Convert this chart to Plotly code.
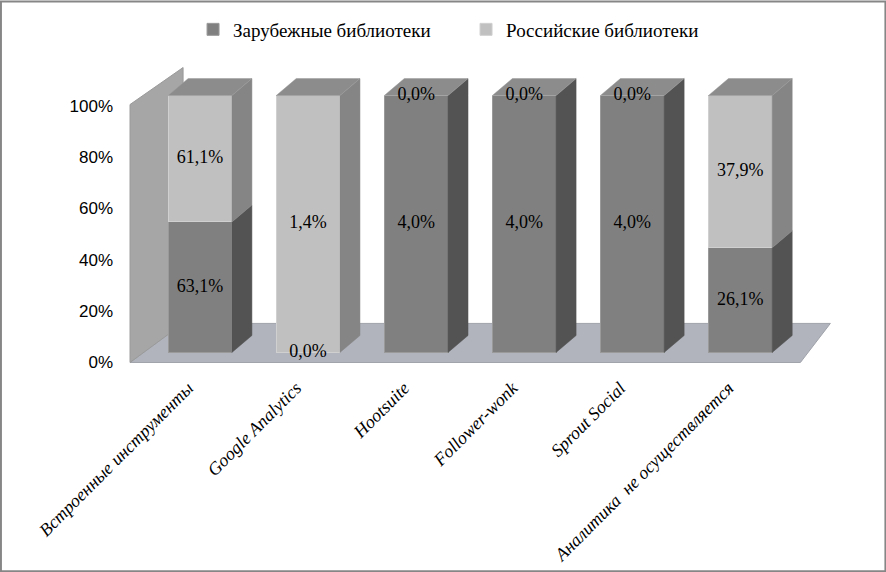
import plotly.graph_objects as go

categories = ["Встроенные инструменты", "Google Analytics", "Hootsuite",
              "Follower-wonk", "Sprout Social", "Аналитика  не осуществляется"]
foreign = [63.1, 0.0, 4.0, 4.0, 4.0, 26.1]
russian = [61.1, 1.4, 0.0, 0.0, 0.0, 37.9]
y_ticks = [0, 20, 40, 60, 80, 100]

SERIF = "Times New Roman, Liberation Serif, serif"

# 3d look parameters (data units)
W = 0.59        # bar width
DX = 0.185      # depth shift, x
DY = 6.6        # depth shift, y (%)
LBL_SHIFT = 3.9  # tick labels sit on the front edge of the floor

DARK, DARK_SIDE = "#808080", "#535353"
LIGHT, LIGHT_SIDE = "#c0c0c0", "#858585"
TOP = "#8c8c8c"

xs = list(range(len(categories)))
f_pct = [f / (f + r) * 100 for f, r in zip(foreign, russian)]
r_pct = [100 - p for p in f_pct]


def side_poly(x, lo, hi):
    xr = x + W / 2
    return [xr, xr + DX, xr + DX, xr, xr, None], [lo, lo + DY, hi + DY, hi, lo, None]


def top_poly(x, h):
    xl, xr = x - W / 2, x + W / 2
    return [xl, xl + DX, xr + DX, xr, xl, None], [h, h + DY, h + DY, h, h, None]


fig = go.Figure()

fig.add_trace(go.Bar(x=xs, y=f_pct, width=W, name="Зарубежные библиотеки",
                     marker=dict(color=DARK, line=dict(color="#9a9a9a", width=1)),
                     hoverinfo="skip"))
fig.add_trace(go.Bar(x=xs, y=r_pct, width=W, name="Российские библиотеки",
                     marker=dict(color=LIGHT, line=dict(color="#d0d0d0", width=1)),
                     hoverinfo="skip"))

for pct_lo, pct_hi, col in [(None, f_pct, DARK_SIDE), (f_pct, None, LIGHT_SIDE)]:
    px_, py_ = [], []
    for i, x in enumerate(xs):
        lo = 0 if pct_lo is None else pct_lo[i]
        hi = pct_hi[i] if pct_hi is not None else 100
        if hi - lo <= 0:
            continue
        a, b = side_poly(x, lo, hi)
        px_ += a
        py_ += b
    fig.add_trace(go.Scatter(x=px_, y=py_, mode="lines", fill="toself", fillcolor=col,
                             line=dict(color=col, width=0.5), showlegend=False,
                             hoverinfo="skip"))

tx, ty = [], []
for x in xs:
    a, b = top_poly(x, 100)
    tx += a
    ty += b
fig.add_trace(go.Scatter(x=tx, y=ty, mode="lines", fill="toself", fillcolor=TOP,
                         line=dict(color="#9a9a9a", width=0.5), showlegend=False,
                         hoverinfo="skip"))

# value labels
lab_x, lab_y, lab_t = [], [], []
for i, x in enumerate(xs):
    lab_x += [x, x]
    lab_y += [f_pct[i] / 2, f_pct[i] + r_pct[i] / 2]
    lab_t += [f"{foreign[i]:.1f}%".replace(".", ","), f"{russian[i]:.1f}%".replace(".", ",")]
fig.add_trace(go.Scatter(x=lab_x, y=lab_y, mode="text", text=lab_t,
                         textfont=dict(family=SERIF, size=18, color="black"),
                         showlegend=False, hoverinfo="skip"))

# floor and side wall
floor = [(-0.648, -LBL_SHIFT), (5.556, -LBL_SHIFT), (5.833, 11.3), (-0.157, 11.3)]
wall = [(-0.648, -LBL_SHIFT), (-0.648, 96.5), (-0.157, 110.9), (-0.157, 11.3)]


def path(pts):
    return "M " + " L ".join(f"{a},{b}" for a, b in pts) + " Z"


fig.add_shape(type="path", path=path(floor), xref="x", yref="y", layer="below",
              fillcolor="#b1b4bd", line=dict(color="#a0a3aa", width=1))
fig.add_shape(type="path", path=path(wall), xref="x", yref="y", layer="below",
              fillcolor="#a6a6a6", line=dict(color="#9a9a9a", width=1))

# outer border
fig.add_shape(type="rect", xref="paper", yref="paper",
              x0=-118 / 723.6, x1=766 / 723.6, y0=-198.4 / 316.1, y1=371.6 / 316.1,
              line=dict(color="#868686", width=2), fillcolor="rgba(0,0,0,0)")

fig.update_layout(
    width=886, height=572,
    margin=dict(l=119, r=43.4, t=56.5, b=199.4, autoexpand=False),
    barmode="stack",
    plot_bgcolor="white", paper_bgcolor="white",
    legend=dict(orientation="h", x=(193 - 119) / 723.6, y=(372.6 - 29) / 316.1,
                xanchor="left", yanchor="middle",
                font=dict(family=SERIF, size=19, color="black"),
                itemwidth=30, traceorder="normal", entrywidth=228),
    xaxis=dict(range=[-0.75, 5.95], tickvals=xs, ticktext=categories, tickangle=-45,
               showgrid=False, zeroline=False, showline=False, ticks="",
               ticklabelshift=-12, automargin=False,
               tickfont=dict(family=SERIF, size=18, color="black", style="italic")),
    yaxis=dict(range=[-8, 115], tickvals=[v - LBL_SHIFT for v in y_ticks],
               ticktext=[f"{v}%" for v in y_ticks], showgrid=False, zeroline=False,
               showline=False, ticks="", ticklabelstandoff=5, automargin=False,
               tickfont=dict(family="Liberation Sans", size=17, color="black")),
)

fig.write_html("out.html", config={"displayModeBar": False},
               post_script="document.body.style.margin='0';")
